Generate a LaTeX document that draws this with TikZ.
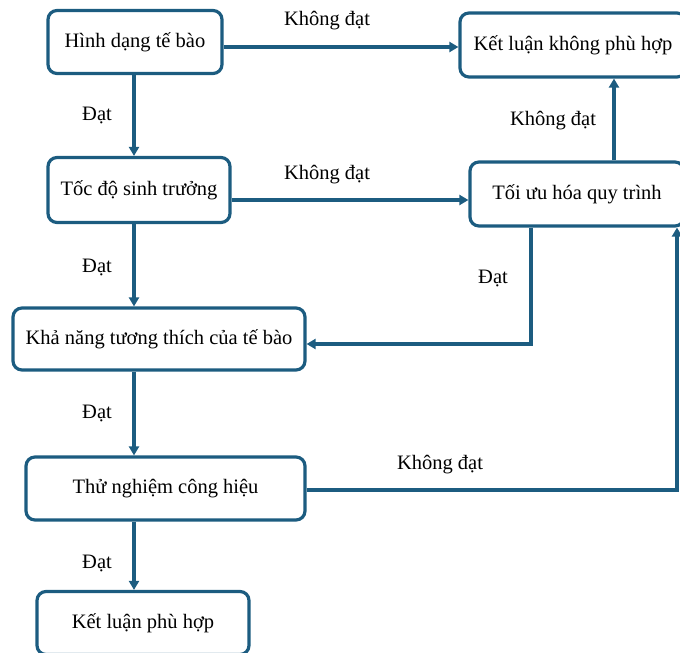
\documentclass[tikz,border=0pt]{standalone}
\usepackage{fontspec}
\setmainfont{Liberation Serif}
\usetikzlibrary{arrows.meta,calc}
\definecolor{flow}{RGB}{28,92,128}
\tikzset{
  stepbox/.style={draw=flow, line width=3.2pt, rounded corners=9pt, fill=white, inner sep=0pt, font=\fontsize{20.5}{24}\selectfont},
  arr/.style={draw=flow, line width=3.2pt, -{Triangle[length=9pt,width=10pt]}},
  lbl/.style={font=\fontsize{20.5}{24}\selectfont, inner sep=0pt}
}
\begin{document}
\begin{tikzpicture}[x=1pt,y=-1pt]
\useasboundingbox (0,0) rectangle (680,653);
\clip (0,0) rectangle (680,653);
% boxes
\node[stepbox, minimum width=174pt, minimum height=63pt] (b1) at (135,42) {Hình dạng tế bào};
\node[stepbox, minimum width=226pt, minimum height=64pt] (kl) at (573,45) {Kết luận không phù hợp};
\node[stepbox, minimum width=182pt, minimum height=65pt] (b2) at (139,190) {Tốc độ sinh trưởng};
\node[stepbox, minimum width=214pt, minimum height=64pt] (tu) at (577,194) {Tối ưu hóa quy trình};
\node[stepbox, minimum width=292pt, minimum height=62pt] (b3) at (159,339) {Khả năng tương thích của tế bào};
\node[stepbox, minimum width=279pt, minimum height=63pt] (b4) at (165.5,488.5) {Thử nghiệm công hiệu};
\node[stepbox, minimum width=212pt, minimum height=63pt] (b5) at (143,623) {Kết luận phù hợp};
% helper coordinates
\coordinate (xa) at (134,0);
\coordinate (ya) at (0,47);
\coordinate (yb) at (0,200);
\coordinate (xc) at (614,0);
\coordinate (xd) at (531,0);
\coordinate (yd) at (0,344);
\coordinate (xe) at (677,0);
\coordinate (ye) at (0,490);
% vertical main flow
\draw[arr] (b1.south -| xa) -- (b2.north -| xa);
\draw[arr] (b2.south -| xa) -- (b3.north -| xa);
\draw[arr] (b3.south -| xa) -- (b4.north -| xa);
\draw[arr] (b4.south -| xa) -- (b5.north -| xa);
% horizontal
\draw[arr] (b1.east |- ya) -- (kl.west |- ya);
\draw[arr] (b2.east |- yb) -- (tu.west |- yb);
\draw[arr] (tu.north -| xc) -- (kl.south -| xc);
\draw[arr] (tu.south -| xd) -- (xd |- yd) -- (b3.east |- yd);
\draw[arr] (b4.east |- ye) -- (xe |- ye) -- (tu.south -| xe);
% labels
\node[lbl] (l1) at (327,21) {Không đạt};
\node[lbl] (l2) at (327,175) {Không đạt};
\node[lbl] (l3) at (553,121) {Không đạt};
\node[lbl] (l4) at (440,465) {Không đạt};
\node[lbl] (d1) at (97,115) {Đạt};
\node[lbl] (d2) at (97,267) {Đạt};
\node[lbl] (d3) at (493,278) {Đạt};
\node[lbl] (d4) at (97,413) {Đạt};
\node[lbl] (d5) at (97,563) {Đạt};
\end{tikzpicture}
\end{document}
